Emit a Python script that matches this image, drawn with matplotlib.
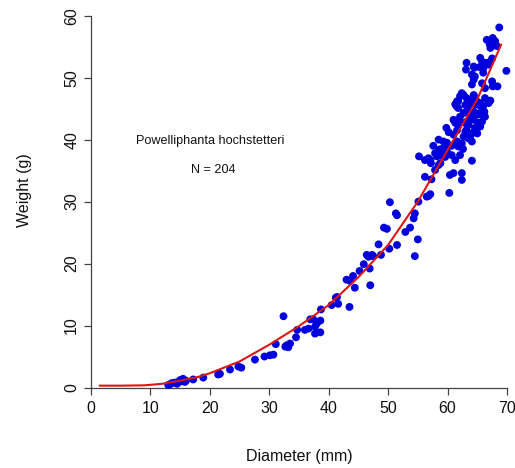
import matplotlib
matplotlib.use("Agg")
import matplotlib.pyplot as plt

plt.rcParams["font.family"] = ["Liberation Sans", "DejaVu Sans"]

# shell diameter (mm) and weight (g)
diameter = [
    13.0, 13.6, 14.1, 14.7, 15.3, 15.5, 15.8, 17.2, 18.9, 21.4, 21.7, 23.4, 24.8,
    13.3, 14.5, 15.0, 16.0,
    25.3, 27.6, 29.2, 30.1, 30.7, 31.1, 32.4, 32.7, 33.2, 33.5, 32.9, 34.5, 34.7,
    36.0, 36.6, 36.9, 37.4, 38.0, 38.6, 37.7, 38.6, 37.7, 38.7, 40.5, 41.4, 41.6,
    43.5,
    41.2, 43.0, 43.6, 44.1, 44.4, 45.2, 45.9, 46.4, 46.7, 47.3, 47.5, 46.9, 47.0,
    48.4, 48.8, 49.3, 49.8, 50.2, 50.3, 51.3, 51.5, 51.5, 52.9, 53.7, 54.3, 54.5,
    55.0, 54.5, 55.1, 56.5, 57.1, 56.8,
    55.2, 56.2, 56.8, 57.2, 57.9, 58.8, 59.3, 59.9, 60.7, 61.3, 62.1, 64.1, 56.2,
    57.3, 57.9, 58.5, 60.4, 61.0, 62.4, 62.4, 60.3,
    57.1, 59.6,
    58.6, 59.0, 62.6, 58.5, 59.3, 59.9, 60.7, 61.3, 61.6, 59.8, 60.2, 61.0, 61.6,
    62.7, 63.5, 64.1, 61.0, 61.3, 61.8, 62.1, 62.7, 63.2, 63.2, 63.5, 63.8, 64.4,
    65.2, 65.8, 66.3, 66.2, 64.6, 64.9,
    62.1, 62.4, 62.7, 61.6, 61.3, 64.4, 64.6, 64.2, 64.9, 65.2, 65.5, 65.8, 66.0,
    66.9, 67.2, 63.5, 64.1,
    61.8, 61.5,
    68.7, 66.6, 67.1, 67.2, 67.6, 68.0, 68.3, 69.9,
    63.2, 63.1, 64.4, 64.5, 65.5, 65.8, 65.4, 66.0, 66.6, 66.9, 67.2, 67.5,
    64.1, 64.4, 64.6, 66.0, 64.1, 65.8, 66.3, 67.5, 68.4, 67.6,
    63.2, 64.1, 64.6, 65.5, 65.0, 63.8, 63.0,
    58.2, 58.8, 59.9, 61.8, 62.4, 57.6,
    61.8, 63.0, 63.8, 63.2, 64.4, 65.2, 62.1, 63.0, 63.8, 65.8, 66.3,
]
weight = [
    0.4, 0.7, 0.8, 0.9, 1.0, 1.4, 0.9, 1.3, 1.6, 2.1, 2.2, 2.9, 3.4,
    0.5, 0.6, 1.2, 1.1,
    3.2, 4.5, 5.0, 5.2, 5.3, 7.0, 11.5, 6.6, 6.5, 7.1, 6.8, 8.1, 9.3,
    9.3, 9.5, 11.0, 11.0, 10.3, 10.8, 9.8, 8.9, 8.7, 12.6, 13.3, 14.6, 13.5,
    13.0,
    14.5, 17.4, 17.2, 18.0, 16.1, 18.8, 19.9, 21.4, 21.1, 21.4, 21.2, 19.2, 16.5,
    23.1, 21.4, 25.8, 25.6, 22.4, 29.9, 28.1, 27.8, 23.0, 25.1, 25.8, 27.3, 28.1,
    23.9, 21.2, 30.0, 30.8, 31.2, 30.9,
    37.3, 36.7, 37.0, 36.2, 37.8, 37.5, 37.3, 38.1, 37.5, 36.7, 37.5, 36.6, 34.0,
    33.6, 35.1, 35.9, 34.3, 34.6, 34.6, 33.5, 31.4,
    36.7, 37.2,
    38.4, 38.5, 38.5, 40.0, 39.7, 39.5, 39.0, 39.4, 39.7, 41.9, 41.2, 40.8, 41.5,
    40.5, 40.2, 39.7, 43.2, 42.7, 42.4, 43.7, 44.3, 44.5, 42.9, 42.4, 43.5, 43.2,
    42.7, 42.9, 43.7, 44.5, 44.3, 44.0,
    47.0, 47.5, 47.2, 46.2, 45.7, 47.2, 46.8, 46.2, 46.2, 45.6, 45.9, 45.1, 45.4,
    45.9, 46.3, 45.1, 45.1,
    46.2, 45.4,
    58.1, 56.1, 55.4, 54.8, 56.4, 55.9, 55.1, 51.1,
    52.4, 51.3, 51.8, 51.6, 53.2, 52.6, 51.7, 51.5, 52.4, 52.1, 52.6, 53.1,
    50.5, 49.7, 50.2, 50.8, 48.9, 49.1, 48.3, 49.4, 48.6, 48.6,
    41.6, 41.0, 41.9, 42.1, 41.0, 40.5, 41.3,
    37.3, 36.2, 38.9, 38.9, 39.4, 39.0,
    45.1, 45.6, 46.2, 46.7, 44.5, 44.2, 42.9, 42.7, 44.0, 44.0, 46.7,
]

# fitted curve
fit_x = [1.5, 5, 9, 12, 15, 18, 20, 25, 30, 35, 40, 45, 50, 55, 60, 65, 69]
fit_y = [0.3, 0.3, 0.35, 0.6, 1.1, 1.7, 2.3, 4.2, 6.9, 9.9, 13.3, 17.8, 23.0,
         30.0, 38.3, 46.5, 55.3]

W, H = 515, 468
fig = plt.figure(figsize=(W / 100, H / 100), dpi=100)

# axes placed so that x=0..70 and y=0..60 land where they do in the original
x0, x1 = -1.0, 71.35
y0, y1 = -1.5, 61.5
px_left, px_right = 85, 515
py_bottom, py_top = 396.8, 6.4
ax = fig.add_axes([px_left / W, 1 - py_bottom / H,
                   (px_right - px_left) / W, (py_bottom - py_top) / H])

ax.scatter(diameter, weight, s=32, color="#0000dd", edgecolors="none",
           clip_on=False, zorder=2)
ax.plot(fit_x, fit_y, color="#dd1515", lw=1.5, zorder=3)

ax.set_xlim(x0, x1)
ax.set_ylim(y0, y1)

# R-style axes: two lines meeting at the origin, no box
for side in ["top", "right"]:
    ax.spines[side].set_visible(False)
ax.spines["left"].set_position(("data", 0))
ax.spines["bottom"].set_position(("data", 0))
ax.spines["left"].set_bounds(0, 60)
ax.spines["bottom"].set_bounds(0, 70)
for side in ["left", "bottom"]:
    ax.spines[side].set_color("#444444")
    ax.spines[side].set_linewidth(0.9)
    ax.spines[side].set_zorder(1)

ax.set_xticks(range(0, 71, 10))
ax.set_yticks(range(0, 61, 10))
ax.tick_params(direction="out", length=5, width=0.9, color="#444444",
               labelsize=11.5, labelcolor="#111111")
ax.tick_params(axis="x", pad=5)
ax.tick_params(axis="y", pad=3.5)
for lab in ax.get_yticklabels():
    lab.set_rotation(90)
    lab.set_va("center")

fig.text(299 / W, 1 - 457 / H, "Diameter (mm)", ha="center", va="center",
         fontsize=11.5, color="#111111")
fig.text(25 / W, 1 - 190 / H, "Weight (g)", ha="center", va="center",
         rotation=90, fontsize=11.5, color="#111111")

ax.text(20.0, 39.8, "Powelliphanta hochstetteri", ha="center", va="center",
        fontsize=9.1, color="#111111")
ax.text(20.5, 35.1, "N = 204", ha="center", va="center",
        fontsize=9.1, color="#111111")

fig.savefig("out.png", dpi=100)
